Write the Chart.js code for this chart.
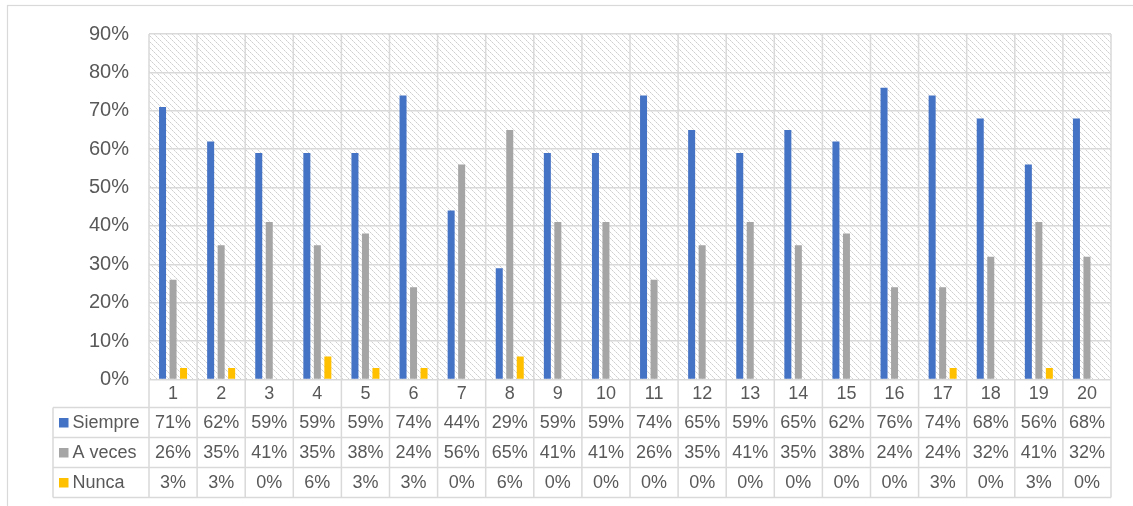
<!DOCTYPE html>
<html>
<head>
<meta charset="utf-8">
<script src="https://cdn.jsdelivr.net/npm/chart.js@4/dist/chart.umd.min.js"></script>
<style>
  body { margin: 0; background: #ffffff; }
  #grafico { display: block; }
</style>
</head>
<body>
<canvas id="grafico" width="1133" height="506"></canvas>
<script>
// preguntas 1..20 y porcentajes por respuesta
const preguntas = ['1','2','3','4','5','6','7','8','9','10','11','12','13','14','15','16','17','18','19','20'];
const siempre = [71, 62, 59, 59, 59, 74, 44, 29, 59, 59, 74, 65, 59, 65, 62, 76, 74, 68, 56, 68];
const aVeces  = [26, 35, 41, 35, 38, 24, 56, 65, 41, 41, 26, 35, 41, 35, 38, 24, 24, 32, 41, 32];
const nunca   = [3, 3, 0, 6, 3, 3, 0, 6, 0, 0, 0, 0, 0, 0, 0, 0, 3, 0, 3, 0];
const ticksY  = [0, 10, 20, 30, 40, 50, 60, 70, 80, 90];

const series = [
    { nombre: 'Siempre', datos: siempre, color: '#4472C4' },
    { nombre: 'A veces', datos: aVeces,  color: '#A5A5A5' },
    { nombre: 'Nunca',   datos: nunca,   color: '#FFC000' }
];

const gris = '#D9D9D9';
const texto = '#595959';
const fuente = '"Liberation Sans", Arial, sans-serif';

// trama de rayas diagonales para el fondo del area de trazado
function crearTrama(ctx) {
    const t = document.createElement('canvas');
    t.width = 6; t.height = 6;
    const c = t.getContext('2d');
    c.fillStyle = '#ffffff';
    c.fillRect(0, 0, 6, 6);
    for (let i = 0; i < 6; i++) {
        c.fillStyle = (i % 2 == 0) ? '#CFCFCF' : '#E2E2E2';
        c.fillRect(i, i, 1, 1);
    }
    return ctx.createPattern(t, 'repeat');
}

// tabla de datos bajo el eje, como en excel
const tablaDatos = {
    id: 'tablaDatos',
    beforeDraw(chart) {
        const ctx = chart.ctx;
        const a = chart.chartArea;
        ctx.save();
        ctx.fillStyle = crearTrama(ctx);
        ctx.fillRect(a.left, a.top, a.right - a.left, a.bottom - a.top);
        ctx.restore();
    },
    afterDraw(chart) {
        const ctx = chart.ctx;
        const a = chart.chartArea;
        const x = chart.scales.x;
        const ancho = (a.right - a.left) / preguntas.length;
        const filaCat = 28;
        const fila = 30;
        const yTabla = a.bottom + filaCat;
        const yFin = yTabla + fila * series.length;
        const izq = 53;

        ctx.save();
        ctx.strokeStyle = gris;
        ctx.lineWidth = 1.5;

        // lineas verticales de cada categoria
        for (let k = 0; k <= preguntas.length; k++) {
            const xx = a.left + k * ancho;
            ctx.beginPath();
            ctx.moveTo(xx, a.top);
            ctx.lineTo(xx, yFin);
            ctx.stroke();
        }
        // borde izquierdo de la leyenda
        ctx.beginPath();
        ctx.moveTo(izq, yTabla);
        ctx.lineTo(izq, yFin);
        ctx.stroke();
        // lineas horizontales
        for (let r = 0; r <= series.length; r++) {
            const yy = yTabla + r * fila;
            ctx.beginPath();
            ctx.moveTo(izq, yy);
            ctx.lineTo(a.right, yy);
            ctx.stroke();
        }

        ctx.fillStyle = texto;
        ctx.font = '18px ' + fuente;
        ctx.textAlign = 'center';
        ctx.textBaseline = 'middle';
        for (let i = 0; i < preguntas.length; i++) {
            ctx.fillText(preguntas[i], x.getPixelForValue(i), a.bottom + filaCat / 2 + 1);
        }

        for (let r = 0; r < series.length; r++) {
            const yc = yTabla + r * fila + fila / 2 + 1;
            const s = series[r];
            // cuadrito de leyenda
            ctx.fillStyle = s.color;
            ctx.fillRect(59, yc - 5.5, 9.5, 9.5);
            ctx.fillStyle = texto;
            ctx.textAlign = 'left';
            ctx.fillText(s.nombre, 72.5, yc);
            ctx.textAlign = 'center';
            for (let i = 0; i < s.datos.length; i++) {
                ctx.fillText(s.datos[i] + '%', x.getPixelForValue(i), yc);
            }
        }

        // marco exterior del grafico
        ctx.lineWidth = 1.2;
        ctx.strokeRect(7.5, 5.5, 1200, 600);
        ctx.restore();
    }
};

const grafico = new Chart(document.getElementById('grafico'), {
    type: 'bar',
    data: {
        labels: preguntas,
        datasets: series.map(s => ({
            label: s.nombre,
            data: s.datos,
            backgroundColor: s.color,
            categoryPercentage: 0.655,
            barPercentage: 0.667
        }))
    },
    options: {
        responsive: false,
        animation: false,
        layout: { padding: { left: 0, top: 34, right: 22, bottom: 126.5 } },
        plugins: {
            legend: { display: false },
            tooltip: { enabled: false }
        },
        scales: {
            x: { display: false },
            y: {
                min: 0,
                max: 90,
                afterFit: scale => { scale.width = 149; },
                afterBuildTicks: scale => { scale.ticks = ticksY.map(v => ({ value: v })); },
                grid: { color: gris, lineWidth: 1.5, drawTicks: false },
                border: { display: false },
                ticks: {
                    padding: 20,
                    color: texto,
                    font: { family: fuente, size: 20 },
                    callback: v => v + '%'
                }
            }
        }
    },
    plugins: [tablaDatos]
});
</script>
</body>
</html>
